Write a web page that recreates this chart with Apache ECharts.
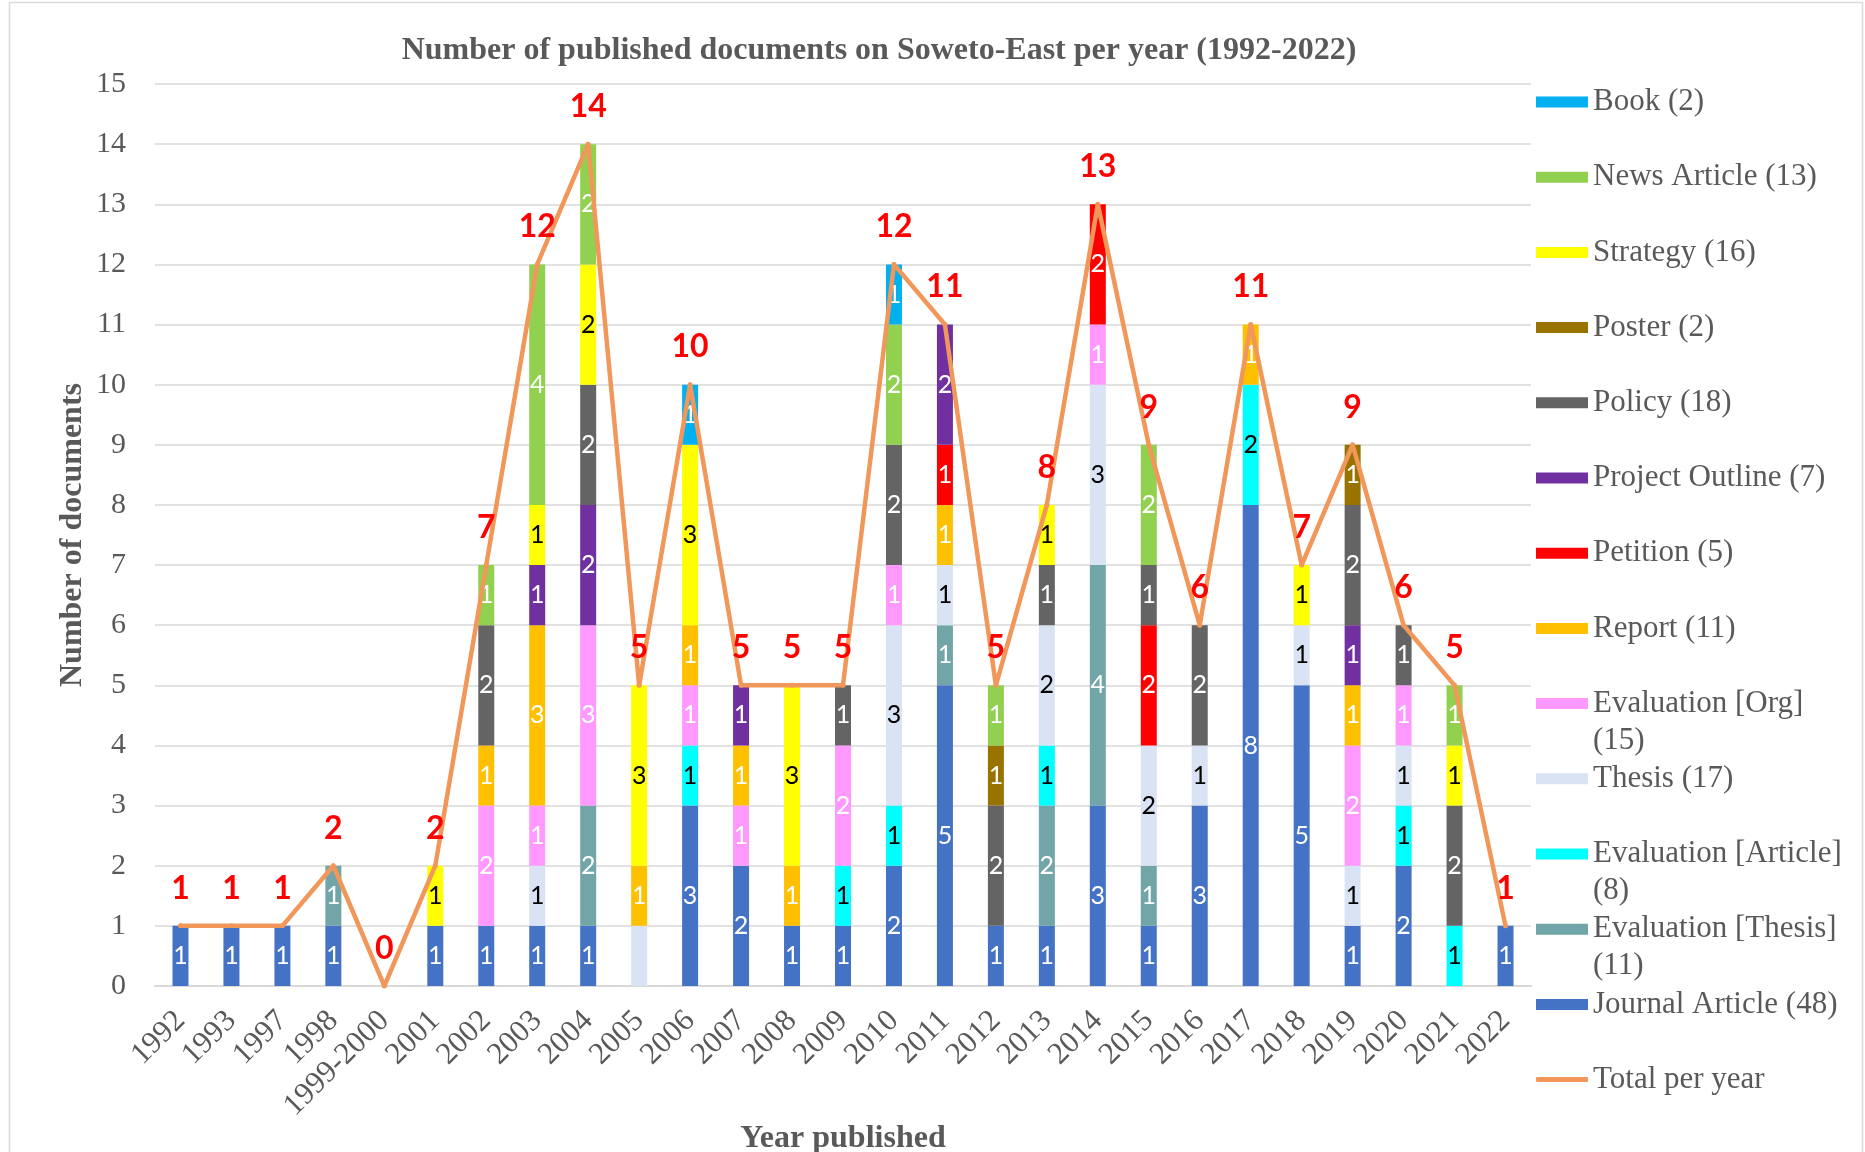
<!DOCTYPE html>
<html>
<head>
<meta charset="utf-8">
<title>Soweto-East documents per year</title>
<script src="https://cdn.jsdelivr.net/npm/echarts@6/dist/echarts.min.js"></script>
<style>
  html, body { margin: 0; padding: 0; background: #fff; }
  #chart { width: 1865px; height: 1152px; }
</style>
</head>
<body>
<div id="chart"></div>
<script>
const years = ["1992", "1993", "1997", "1998", "1999-2000", "2001", "2002", "2003", "2004", "2005", "2006", "2007", "2008", "2009", "2010", "2011", "2012", "2013", "2014", "2015", "2016", "2017", "2018", "2019", "2020", "2021", "2022"];

// stack order, bottom to top
const journalArticle = [1, 1, 1, 1, 0, 1, 1, 1, 1, 0, 3, 2, 1, 1, 2, 5, 1, 1, 3, 1, 3, 8, 5, 1, 2, 0, 1];
const evalThesis     = [0, 0, 0, 1, 0, 0, 0, 0, 2, 0, 0, 0, 0, 0, 0, 1, 0, 2, 4, 1, 0, 0, 0, 0, 0, 0, 0];
const evalArticle    = [0, 0, 0, 0, 0, 0, 0, 0, 0, 0, 1, 0, 0, 1, 1, 0, 0, 1, 0, 0, 0, 2, 0, 0, 1, 1, 0];
const thesis         = [0, 0, 0, 0, 0, 0, 0, 1, 0, 1, 0, 0, 0, 0, 3, 1, 0, 2, 3, 2, 1, 0, 1, 1, 1, 0, 0];
const evalOrg        = [0, 0, 0, 0, 0, 0, 2, 1, 3, 0, 1, 1, 0, 2, 1, 0, 0, 0, 1, 0, 0, 0, 0, 2, 1, 0, 0];
const report         = [0, 0, 0, 0, 0, 0, 1, 3, 0, 1, 1, 1, 1, 0, 0, 1, 0, 0, 0, 0, 0, 1, 0, 1, 0, 0, 0];
const petition       = [0, 0, 0, 0, 0, 0, 0, 0, 0, 0, 0, 0, 0, 0, 0, 1, 0, 0, 2, 2, 0, 0, 0, 0, 0, 0, 0];
const projectOutline = [0, 0, 0, 0, 0, 0, 0, 1, 2, 0, 0, 1, 0, 0, 0, 2, 0, 0, 0, 0, 0, 0, 0, 1, 0, 0, 0];
const policy         = [0, 0, 0, 0, 0, 0, 2, 0, 2, 0, 0, 0, 0, 1, 2, 0, 2, 1, 0, 1, 2, 0, 0, 2, 1, 2, 0];
const poster         = [0, 0, 0, 0, 0, 0, 0, 0, 0, 0, 0, 0, 0, 0, 0, 0, 1, 0, 0, 0, 0, 0, 0, 1, 0, 0, 0];
const strategy       = [0, 0, 0, 0, 0, 1, 0, 1, 2, 3, 3, 0, 3, 0, 0, 0, 0, 1, 0, 0, 0, 0, 1, 0, 0, 1, 0];
const newsArticle    = [0, 0, 0, 0, 0, 0, 1, 4, 2, 0, 0, 0, 0, 0, 2, 0, 1, 0, 0, 2, 0, 0, 0, 0, 0, 1, 0];
const book           = [0, 0, 0, 0, 0, 0, 0, 0, 0, 0, 1, 0, 0, 0, 1, 0, 0, 0, 0, 0, 0, 0, 0, 0, 0, 0, 0];
const totalPerYear   = [1, 1, 1, 2, 0, 2, 7, 12, 14, 5, 10, 5, 5, 5, 12, 11, 5, 8, 13, 9, 6, 11, 7, 9, 6, 5, 1];

const yTicks = [0, 15, 1]; // min, max, step

const types = [
  { name: "Journal Article", data: journalArticle, color: "#4472C4", label: "#fff" },
  { name: "Evaluation [Thesis]", data: evalThesis, color: "#71A5A8", label: "#fff" },
  { name: "Evaluation [Article]", data: evalArticle, color: "#00FFFF", label: "#000" },
  { name: "Thesis", data: thesis, color: "#DAE3F3", label: "#000" },
  { name: "Evaluation [Org]", data: evalOrg, color: "#FF99FF", label: "#fff" },
  { name: "Report", data: report, color: "#FFC000", label: "#fff" },
  { name: "Petition", data: petition, color: "#FF0000", label: "#fff" },
  { name: "Project Outline", data: projectOutline, color: "#7030A0", label: "#fff" },
  { name: "Policy", data: policy, color: "#646464", label: "#fff" },
  { name: "Poster", data: poster, color: "#997300", label: "#fff" },
  { name: "Strategy", data: strategy, color: "#FFFF00", label: "#000" },
  { name: "News Article", data: newsArticle, color: "#92D050", label: "#fff" },
  { name: "Book", data: book, color: "#00B0F0", label: "#fff" }
];
// segments drawn without a value label in the original
const hiddenLabels = [["Thesis", "2005"]];

const serif = "'Liberation Serif', 'Times New Roman', serif";
const textGrey = "#595959";
const lineColor = "#F1975A";

const seriesName = t => `${t.name} (${t.data.reduce((a, b) => a + b, 0)})`;

const barSeries = types.map(t => ({
  name: seriesName(t),
  type: "bar",
  stack: "docs",
  barWidth: 16,
  itemStyle: { color: t.color },
  label: {
    show: true,
    position: "inside",
    color: t.label,
    fontFamily: "Lato, sans-serif",
    fontSize: 25,
    formatter: p => {
      if (!p.value) return "";
      if (hiddenLabels.some(([n, y]) => n === t.name && y === p.name)) return "";
      return p.value;
    }
  },
  data: t.data
}));

const totalSeries = {
  name: "Total per year",
  type: "line",
  z: 5,
  symbol: "circle",
  symbolSize: 5,
  itemStyle: { color: lineColor },
  lineStyle: { color: lineColor, width: 4.5, cap: "round", join: "round" },
  label: {
    show: true,
    position: "top",
    distance: 19,
    color: "#FF0000",
    fontFamily: "Lato, sans-serif",
    fontWeight: "bold",
    fontSize: 32
  },
  data: totalPerYear
};

// legend, top to bottom, one block per entry so the spacing stays even
const legendNames = [...types].reverse().map(seriesName).concat("Total per year");
const legendLineH = 37;
const legends = legendNames.map((name, i) => {
  const centre = 102 + i * 75.2;
  const wrapped = name.includes("] (");
  const isLine = name === "Total per year";
  return {
    data: [name],
    left: 1536,
    top: centre - (wrapped ? legendLineH * 1.5 : legendLineH / 2),
    itemWidth: 52,
    itemHeight: isLine ? 5 : 11,
    itemGap: 0,
    padding: 0,
    icon: isLine ? "roundRect" : "rect",
    selectedMode: false,
    // wrapped names get an empty first line so the first text line sits beside the icon
    formatter: n => (n.includes("] (") ? "\n" + n.replace("] (", "]\n(") : n),
    textStyle: {
      fontFamily: serif,
      fontSize: 31,
      color: textGrey,
      lineHeight: legendLineH
    }
  };
});

const chart = echarts.init(document.getElementById("chart"));
chart.setOption({
  animation: false,
  backgroundColor: "#fff",
  title: {
    text: "Number of published documents on Soweto-East per year (1992-2022)",
    left: 874,
    top: 30,
    textAlign: "center",
    textStyle: { fontFamily: serif, fontWeight: "bold", fontSize: 32, color: textGrey }
  },
  graphic: [{
    type: "rect",
    shape: { x: 9.5, y: 2.5, width: 1853, height: 1160 },
    style: { fill: "none", stroke: "#D9D9D9", lineWidth: 1.5 },
    silent: true
  }],
  legend: legends,
  grid: { left: 155, right: 334, top: 84, bottom: 166, outerBoundsMode: "none", containLabel: false },
  xAxis: {
    type: "category",
    data: years,
    name: "Year published",
    nameLocation: "middle",
    nameGap: 137,
    nameMoveOverlap: false,
    nameTextStyle: { fontFamily: serif, fontWeight: "bold", fontSize: 32, color: textGrey },
    axisLine: { lineStyle: { color: "#D9D9D9", width: 2 } },
    axisTick: { show: false },
    axisLabel: {
      interval: 0,
      rotate: 45,
      margin: 30,
      fontFamily: serif,
      fontSize: 31,
      color: textGrey
    }
  },
  yAxis: {
    type: "value",
    min: yTicks[0],
    max: yTicks[1],
    interval: yTicks[2],
    name: "Number of documents",
    nameLocation: "middle",
    nameGap: 66,
    nameMoveOverlap: false,
    nameTextStyle: { fontFamily: serif, fontWeight: "bold", fontSize: 32, color: textGrey },
    axisLine: { show: false },
    axisTick: { show: false },
    splitLine: { lineStyle: { color: "#D9D9D9", width: 1.5 } },
    axisLabel: { margin: 29, fontFamily: serif, fontSize: 30, color: textGrey }
  },
  series: [...barSeries, totalSeries]
});
</script>
</body>
</html>
